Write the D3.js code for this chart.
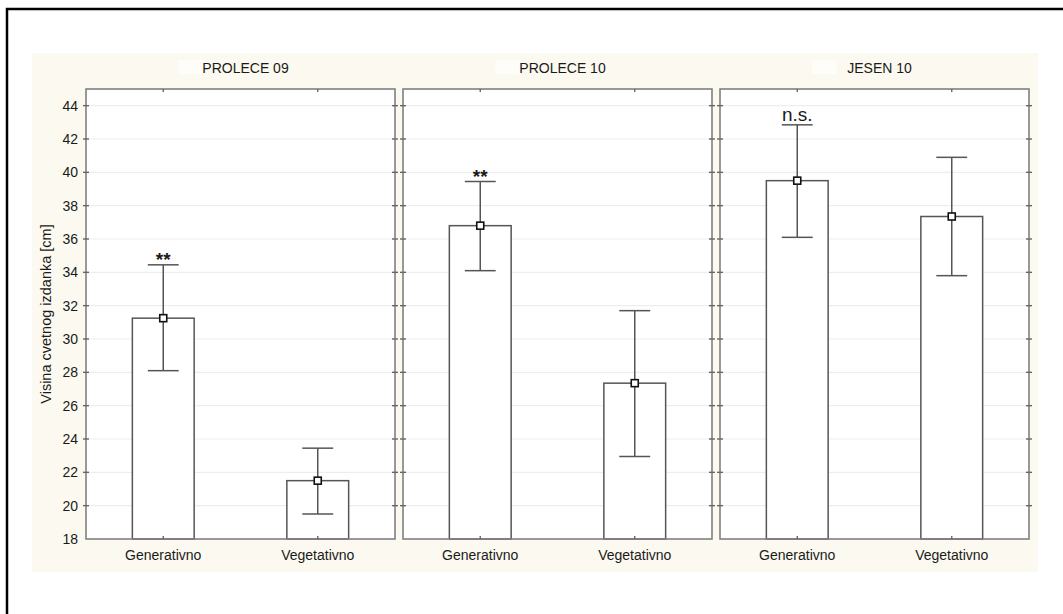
<!DOCTYPE html>
<html>
<head>
<meta charset="utf-8">
<script src="https://cdn.jsdelivr.net/npm/d3@7"></script>
<style>
  body { margin: 0; background: #fff; }
  text { font-family: "Liberation Sans", Arial, sans-serif; fill: #1a1a1a; }
</style>
</head>
<body>
<svg></svg>
<script>
var width = 1063;
var height = 614;

var panels = ["PROLECE 09", "PROLECE 10", "JESEN 10"];
var groups = ["Generativno", "Vegetativno"];
var means = [[31.25, 21.5], [36.8, 27.35], [39.5, 37.35]];
var upper = [[34.45, 23.45], [39.45, 31.7], [42.85, 40.9]];
var lower = [[28.1, 19.5], [34.1, 22.95], [36.1, 33.8]];
var marks = [["**", ""], ["**", ""], ["n.s.", ""]];
var yTicks = [18, 20, 22, 24, 26, 28, 30, 32, 34, 36, 38, 40, 42, 44];
var yTitle = "Visina cvetnog izdanka [cm]";

var plotTop = 89;
var plotBottom = 539;

// prettier-ignore
var svg = d3.select("svg")
              .attr("width", width)
              .attr("height", height);

// outer frame, only left and top edges fall inside the window
svg.append("rect")
   .attr("x", 7)
   .attr("y", 9)
   .attr("width", width + 20)
   .attr("height", height + 20)
   .attr("fill", "none")
   .attr("stroke", "#000")
   .attr("stroke-width", 2.5);

svg.append("rect")
   .attr("x", 32)
   .attr("y", 53)
   .attr("width", 1006)
   .attr("height", 519)
   .attr("fill", "#fcfaf0");

// prettier-ignore
var panelScale = d3.scaleBand()
                   .domain(panels)
                   .range([86, 1029])
                   .paddingInner(8 / 317);

var pw = panelScale.bandwidth();

// prettier-ignore
var xScale = d3.scaleBand()
               .domain(groups)
               .range([0, pw])
               .paddingInner(0.6)
               .paddingOuter(0.3);

// prettier-ignore
var yScale = d3.scaleLinear()
               .domain([18, 45])
               .range([plotBottom, plotTop]);

var capHalf = xScale.bandwidth() * 0.25;

panels.forEach(function(name, i) {
  // prettier-ignore
  var g = svg.append("g")
             .attr("transform", "translate(" + panelScale(name) + ",0)");

  g.append("rect")
   .attr("x", 0)
   .attr("y", plotTop)
   .attr("width", pw)
   .attr("height", plotBottom - plotTop)
   .attr("fill", "#fff");

  // prettier-ignore
  g.selectAll(".grid")
   .data(yTicks.slice(1))
   .enter()
     .append("line")
     .attr("x1", 0)
     .attr("x2", pw)
     .attr("y1", d => yScale(d))
     .attr("y2", d => yScale(d))
     .attr("stroke", "#ededed")
     .attr("stroke-width", 1.2);

  var rows = groups.map(function(grp, j) {
    return { grp: grp, mean: means[i][j], hi: upper[i][j], lo: lower[i][j], mark: marks[i][j] };
  });

  // prettier-ignore
  g.selectAll(".bar")
   .data(rows)
   .enter()
     .append("rect")
     .attr("x", d => xScale(d.grp))
     .attr("y", d => yScale(d.mean))
     .attr("width", xScale.bandwidth())
     .attr("height", d => plotBottom - yScale(d.mean))
     .attr("fill", "#fff")
     .attr("stroke", "#555")
     .attr("stroke-width", 1.5);

  var cx = d => xScale(d.grp) + xScale.bandwidth() / 2;

  // prettier-ignore
  var err = g.selectAll(".err")
             .data(rows)
             .enter()
               .append("g")
               .attr("stroke", "#555")
               .attr("stroke-width", 1.5);

  err.append("line")
     .attr("x1", cx)
     .attr("x2", cx)
     .attr("y1", d => yScale(d.lo))
     .attr("y2", d => yScale(d.hi));

  err.append("line")
     .attr("x1", d => cx(d) - capHalf)
     .attr("x2", d => cx(d) + capHalf)
     .attr("y1", d => yScale(d.hi))
     .attr("y2", d => yScale(d.hi));

  err.append("line")
     .attr("x1", d => cx(d) - capHalf)
     .attr("x2", d => cx(d) + capHalf)
     .attr("y1", d => yScale(d.lo))
     .attr("y2", d => yScale(d.lo));

  // prettier-ignore
  g.selectAll(".mean")
   .data(rows)
   .enter()
     .append("rect")
     .attr("x", d => cx(d) - 3.5)
     .attr("y", d => yScale(d.mean) - 3.5)
     .attr("width", 7)
     .attr("height", 7)
     .attr("fill", "#fff")
     .attr("stroke", "#111")
     .attr("stroke-width", 1.6);

  // prettier-ignore
  g.selectAll(".mark")
   .data(rows.filter(d => d.mark))
   .enter()
     .append("text")
     .attr("x", cx)
     .attr("y", d => yScale(d.hi) + (d.mark == "**" ? 1 : -4))
     .attr("text-anchor", "middle")
     .style("font-size", "19px")
     .style("font-weight", d => d.mark == "**" ? "bold" : "normal")
     .text(d => d.mark);

  // frame with crossing ticks
  g.append("rect")
   .attr("x", 0)
   .attr("y", plotTop)
   .attr("width", pw)
   .attr("height", plotBottom - plotTop)
   .attr("fill", "none")
   .attr("stroke", "#808080")
   .attr("stroke-width", 1.6);

  [0, pw].forEach(function(x0) {
    // prettier-ignore
    g.selectAll(null)
     .data(yTicks.slice(1))
     .enter()
       .append("line")
       .attr("x1", x0 - 3)
       .attr("x2", x0 + 3)
       .attr("y1", d => yScale(d))
       .attr("y2", d => yScale(d))
       .attr("stroke", "#666")
       .attr("stroke-width", 1.4);
  });

  // prettier-ignore
  g.selectAll(null)
   .data(groups)
   .enter()
     .append("line")
     .attr("x1", d => xScale(d) + xScale.bandwidth() / 2)
     .attr("x2", d => xScale(d) + xScale.bandwidth() / 2)
     .attr("y1", plotTop)
     .attr("y2", plotTop + 3)
     .attr("stroke", "#666")
     .attr("stroke-width", 1.4);

  // prettier-ignore
  g.selectAll(null)
   .data(groups)
   .enter()
     .append("line")
     .attr("x1", d => xScale(d) + xScale.bandwidth() / 2)
     .attr("x2", d => xScale(d) + xScale.bandwidth() / 2)
     .attr("y1", plotBottom)
     .attr("y2", plotBottom - 3)
     .attr("stroke", "#666")
     .attr("stroke-width", 1.4);

  // prettier-ignore
  g.selectAll(".cat")
   .data(groups)
   .enter()
     .append("text")
     .attr("x", d => xScale(d) + xScale.bandwidth() / 2)
     .attr("y", 560)
     .attr("text-anchor", "middle")
     .style("font-size", "14px")
     .text(d => d);

  // blank legend swatch and panel title
  g.append("rect")
   .attr("x", pw / 2 - 62)
   .attr("y", 60)
   .attr("width", 24)
   .attr("height", 14)
   .attr("fill", "#fefdf9");

  g.append("text")
   .attr("x", pw / 2 + 5)
   .attr("y", 73)
   .attr("text-anchor", "middle")
   .style("font-size", "14px")
   .text(name);
});

// prettier-ignore
svg.append("g")
   .selectAll("text")
   .data(yTicks)
   .enter()
     .append("text")
     .attr("x", 78)
     .attr("y", d => yScale(d) + 5)
     .attr("text-anchor", "end")
     .style("font-size", "14px")
     .text(d => d);

// prettier-ignore
svg.append("text")
     .attr("transform", "rotate(-90)")
     .attr("x", -(plotTop + plotBottom) / 2)
     .attr("y", 51)
     .attr("text-anchor", "middle")
     .style("font-size", "14.5px")
     .text(yTitle);
</script>
</body>
</html>
